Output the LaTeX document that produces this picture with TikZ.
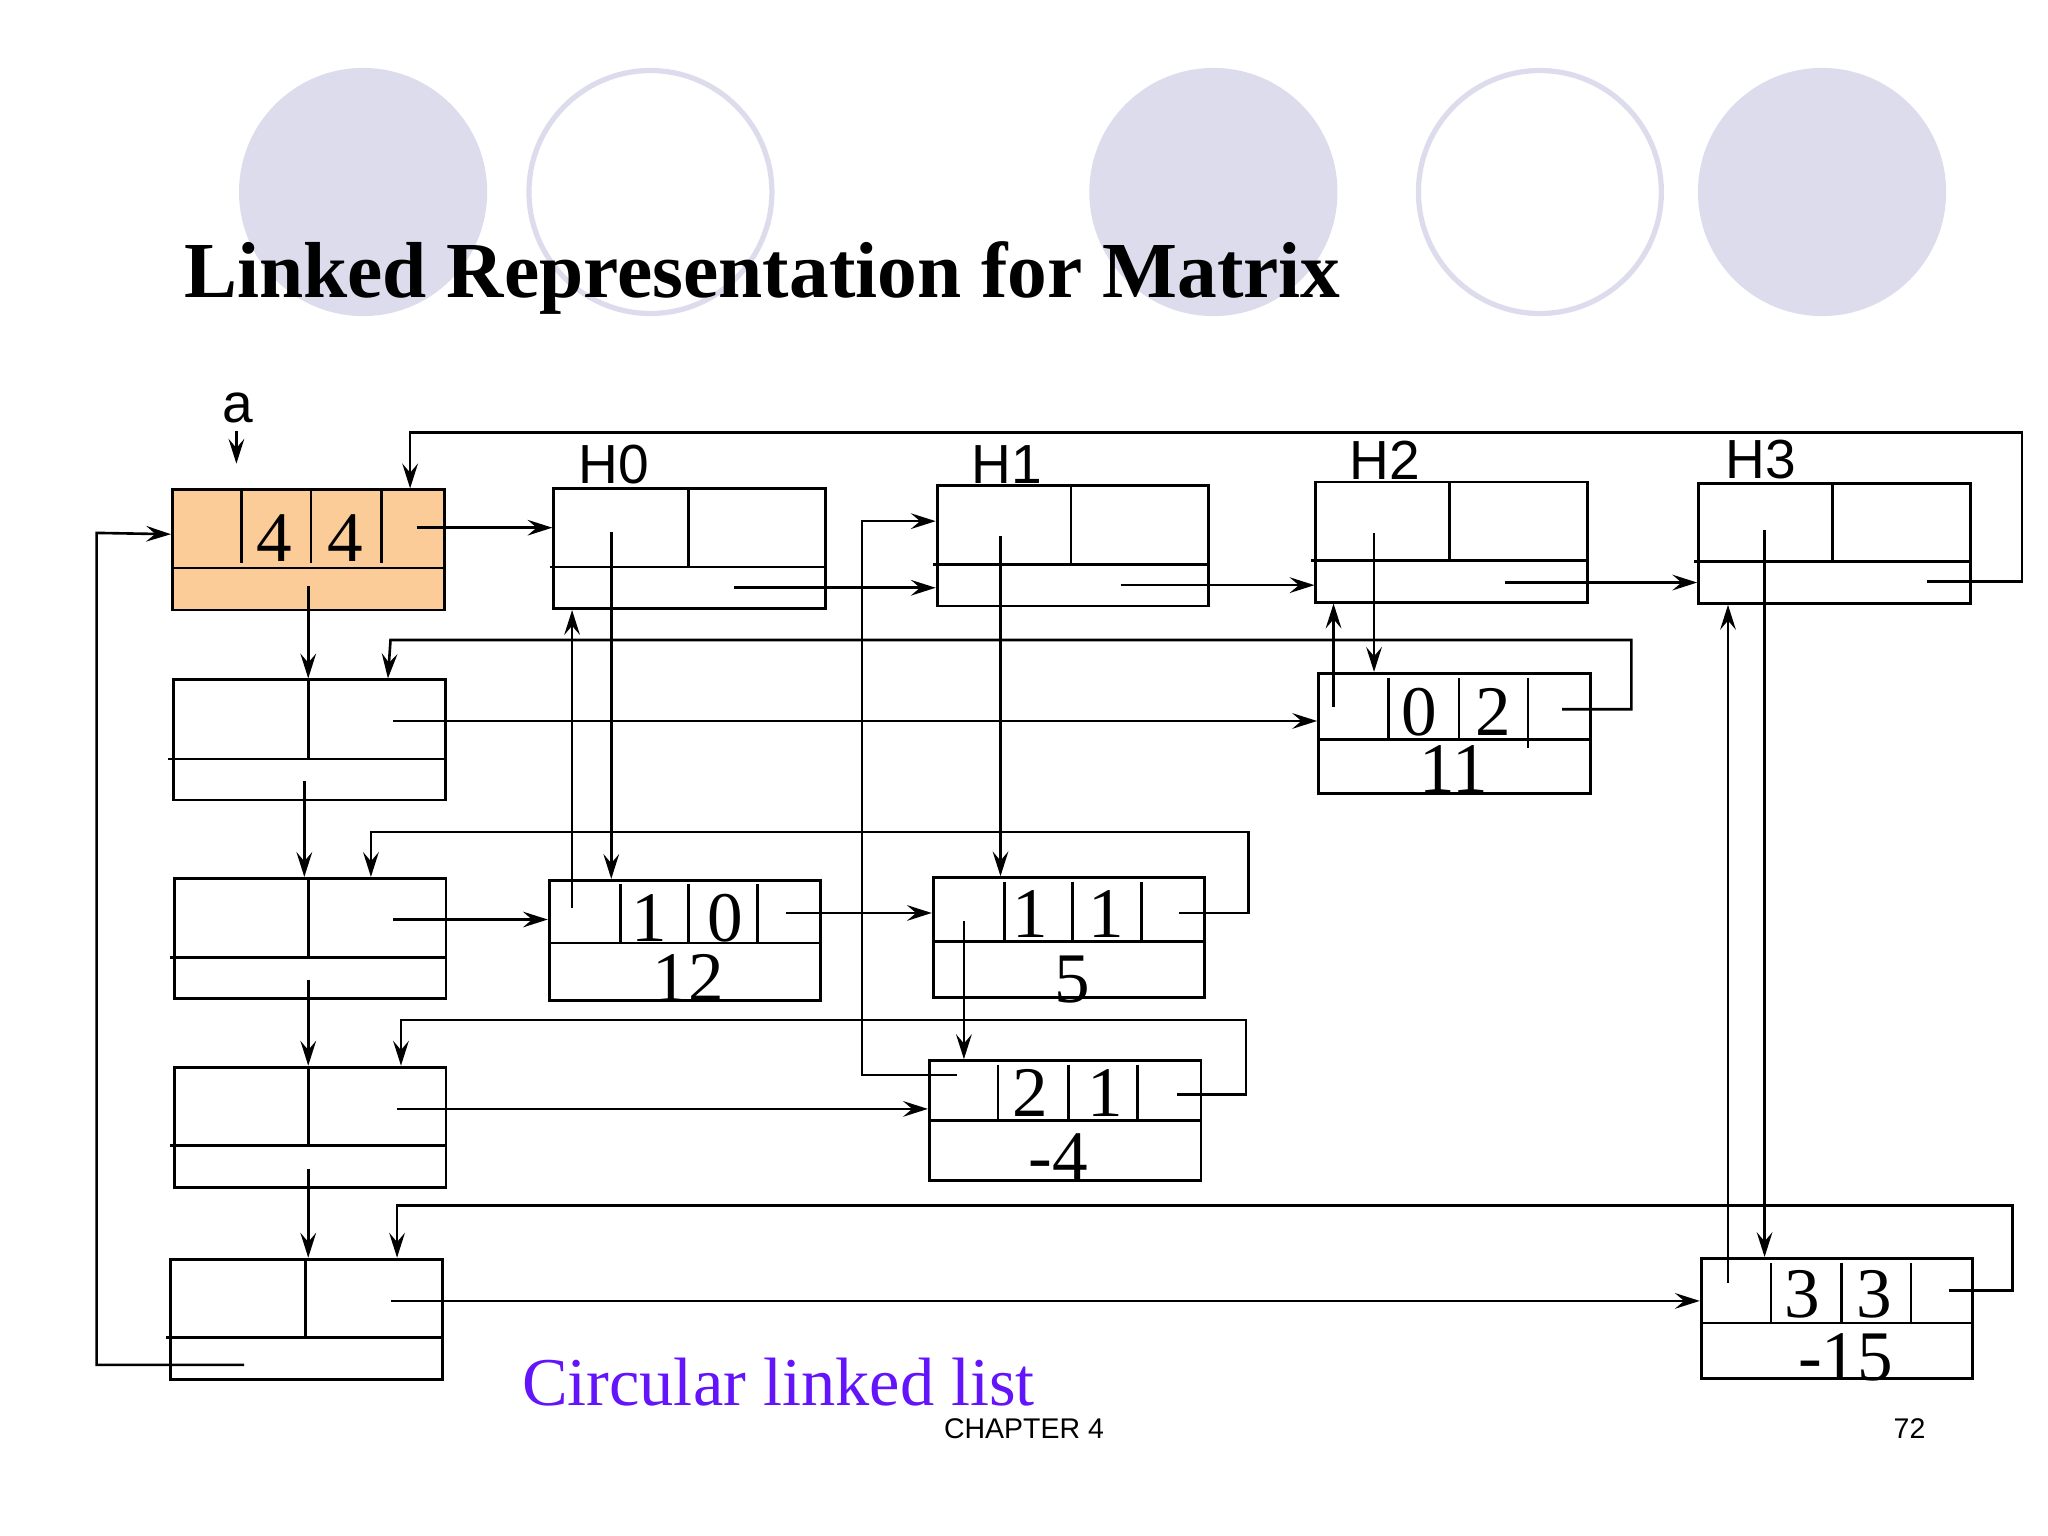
\documentclass[tikz,border=0pt]{standalone}
\usepackage{fontspec}
\setmainfont{Liberation Serif}
\newfontfamily\sansf{Liberation Sans}
\usetikzlibrary{arrows.meta}
\definecolor{lav}{RGB}{220,220,236}
\definecolor{peach}{RGB}{251,203,152}
\definecolor{vio}{RGB}{100,20,250}
\begin{document}
\begin{tikzpicture}[x=0.1mm,y=-0.1mm,
  every path/.style={line width=0.2mm},
  box/.style={draw,line width=0.22mm,inner sep=0,minimum width=20.8mm,minimum height=9.2mm},
  ar/.style={-{Stealth[length=1.9mm,width=1.2mm,inset=0.7mm]}},
  dig/.style={font=\fontsize{15.5}{15.5}\selectfont,inner sep=0},
  hl/.style={font=\sansf\fontsize{12}{12}\selectfont,inner sep=0}]
\useasboundingbox (0,0) rectangle (1568,1176);
\fill[white] (0,0) rectangle (1568,1176);
% decorative circles
\fill[lav] (278,147) circle[radius=9.5mm];
\draw[lav,line width=0.4mm] (498,147) circle[radius=9.3mm];
\fill[lav] (929,147) circle[radius=9.5mm];
\draw[lav,line width=0.4mm] (1179,147) circle[radius=9.3mm];
\fill[lav] (1395,147) circle[radius=9.5mm];
\node[anchor=base west,inner sep=0,font=\bfseries\fontsize{17.3}{17.3}\selectfont] (title) at (140,228) {Linked Representation for Matrix};

% head node a
\node[box,fill=peach] (a) at (236,421) {};
\draw (131,435) -- (341,435);
\foreach \x in {185,238,292} \draw (\x,375) -- (\x,431);
\node[dig] (a1) at (210,412) {4};
\node[dig] (a2) at (264,412) {4};
\node[font=\sansf\fontsize{12}{12}\selectfont,inner sep=0] (alab) at (182,312) {a};
\draw[ar] (181,330) -- (181,355);

% header nodes
\node[box] (h0) at (528,420) {};
\draw (527,375)--(527,434) (421,434)--(632,434);
\node[hl] (h0l) at (470,356) {H0};
\node[box] (h1) at (821.5,418) {};
\draw (820,373)--(820,432) (714,432)--(925,432);
\node[hl] (h1l) at (771,356) {H1};
\node[box] (h2) at (1111.5,415) {};
\draw (1110,370)--(1110,429) (1004,429)--(1215,429);
\node[hl] (h2l) at (1060,352) {H2};
\node[box] (h3) at (1404.5,416) {};
\draw (1403,371)--(1403,430) (1297,430)--(1508,430);
\node[hl] (h3l) at (1348,352) {H3};

% row head nodes
\node[box] (r0) at (237,566.5) {};
\draw (236,521)--(236,581) (129,581)--(341,581);
\node[box] (r1) at (237.5,718.5) {};
\draw (236,673)--(236,733) (130,733)--(341,733);
\node[box] (r2) at (237.5,863) {};
\draw (236,818)--(236,877) (130,877)--(341,877);
\node[box] (r3) at (234.5,1010) {};
\draw (234,965)--(234,1024) (127,1024)--(338,1024);

% element nodes
\node[box] (e10) at (524.5,720) {};
\draw (420,722)--(629,722);
\foreach \x in {475,527,580} \draw (\x,677)--(\x,722);
\node[dig] at (497,703) {1}; \node[dig] at (555,703) {0}; \node[dig] at (527,749) {12};

\node[box] (e11) at (818.5,718) {};
\draw (714,721)--(923,721);
\foreach \x in {769,821,874} \draw (\x,675)--(\x,721);
\node[dig] at (789,700) {1}; \node[dig] at (847,700) {1}; \node[dig] at (821,750) {5};

\node[box] (e02) at (1113.5,561.5) {};
\draw (1009,566)--(1218,566);
\draw (1063,519)--(1063,566) (1117,519)--(1117,566) (1170,519)--(1170,573);
\node[dig] at (1087,545) {0}; \node[dig] at (1143,545) {2}; \node[dig] at (1113,589) {11};

\node[box] (e21) at (815.5,858) {};
\draw (711,858)--(920,858);
\foreach \x in {764,818,871} \draw (\x,815)--(\x,858);
\node[dig] at (789,837) {2}; \node[dig] at (846,837) {1}; \node[dig] at (810,886) {-4};

\node[box] (e33) at (1406.5,1009.5) {};
\draw (1302,1013)--(1511,1013);
\foreach \x in {1356,1410,1463} \draw (\x,967)--(\x,1013);
\node[dig] at (1380,991) {3}; \node[dig] at (1435,991) {3}; \node[dig] at (1413,1039) {-15};

% connectors: head
\draw[ar] (319,404) -- (h0.west|-0,404);
\draw[ar] (236,449) -- (r0.north-|236,0);
\draw[ar] (187,1045) -- (74,1045) -- (74,408) -- (a.west|-0,409);
\draw[ar] (1475,445) -- (1548,445) -- (1548,331) -- (314,331) -- (a.north-|314,0);
% headers across
\draw[ar] (562,450) -- (h1.west|-0,450);
\draw[ar] (858,448) -- (h2.west|-0,448);
\draw[ar] (1152,446) -- (h3.west|-0,446);
% headers down
\draw[ar] (468,407) -- (e10.north-|468,0);
\draw[ar] (766,410) -- (e11.north-|766,0);
\draw[ar] (1052,408) -- (e02.north-|1052,0);
\draw[ar] (1351,406) -- (e33.north-|1351,0);
% rows down
\draw[ar] (233,598) -- (r1.north-|233,0);
\draw[ar] (236,750) -- (r2.north-|236,0);
\draw[ar] (236,895) -- (r3.north-|236,0);
% rows right
\draw[ar] (301,552) -- (e02.west|-0,552);
\draw[ar] (301,704) -- (e10.west|-0,704);
\draw[ar] (304,849) -- (e21.west|-0,849);
\draw[ar] (299,996) -- (e33.west|-0,996);
% element right / loops
\draw[ar] (602,699) -- (e11.west|-0,699);
\draw[ar] (1196,543) -- (1249,543) -- (1249,490) -- (299,490) -- (r0.north-|297,0);
\draw[ar] (903,699) -- (956,699) -- (956,637) -- (284,637) -- (r1.north-|284,0);
\draw[ar] (901,838) -- (954,838) -- (954,781) -- (307,781) -- (r2.north-|307,0);
\draw[ar] (1492,988) -- (1541,988) -- (1541,923) -- (304,923) -- (r3.north-|304,0);
% element up / down
\draw[ar] (438,695) -- (h0.south-|438,0);
\draw[ar] (738,705) -- (e21.north-|738,0);
\draw[ar] (1021,541) -- (h2.south-|1021,0);
\draw[ar] (1323,982) -- (h3.south-|1323,0);
\draw[ar] (733,823) -- (660,823) -- (660,399) -- (h1.west|-0,399);

\node[text=vio,font=\fontsize{14.9}{14.9}\selectfont,inner sep=0,anchor=base] (cll) at (596,1076) {Circular linked list};
\node[font=\sansf\fontsize{6.2}{6.2}\selectfont,inner sep=0] (ch) at (784,1094) {CHAPTER 4};
\node[font=\sansf\fontsize{6.2}{6.2}\selectfont,inner sep=0] (pg) at (1462,1094) {72};
\end{tikzpicture}
\end{document}
